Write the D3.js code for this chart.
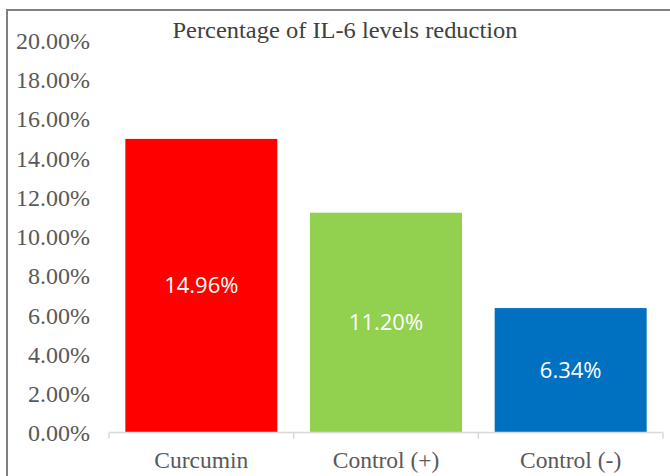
<!DOCTYPE html>
<html>
<head>
<meta charset="utf-8">
<script src="https://cdn.jsdelivr.net/npm/d3@7"></script>
<style>
  body { margin: 0; background: #fff; }
  svg { display: block; }
</style>
</head>
<body>
<svg id="chart" width="670" height="476"></svg>
<script>
// values
const categories = ["Curcumin", "Control (+)", "Control (-)"];
const reductions = [0.1496, 0.1120, 0.0634];
const barColors = ["#ff0000", "#92d050", "#0070c0"];
const yTicks = [0, 0.02, 0.04, 0.06, 0.08, 0.10, 0.12, 0.14, 0.16, 0.18, 0.20];
const title = "Percentage of IL-6 levels reduction";

const svg = d3.select("#chart");
const serif = "'Liberation Serif', 'Times New Roman', serif";
const sans = "'Open Sans', 'Liberation Sans', sans-serif";
const textColor = "#595959";

// chart frame, runs off the right and bottom edge
svg.append("rect")
    .attr("x", 7).attr("y", 10)
    .attr("width", 700).attr("height", 500)
    .attr("fill", "#fff")
    .attr("stroke", "#7f7f7f")
    .attr("stroke-width", 2);

const x = d3.scaleBand()
    .domain(categories)
    .range([109, 663])
    .paddingInner(0.177)
    .paddingOuter(0.0885);

const y = d3.scaleLinear()
    .domain([0, 0.20])
    .range([432.5, 40]);

const fmt = d3.format(".2%");

svg.append("text")
    .attr("x", 345).attr("y", 38)
    .attr("text-anchor", "middle")
    .attr("font-family", serif)
    .attr("font-size", 23)
    .attr("textLength", 345)
    .attr("lengthAdjust", "spacingAndGlyphs")
    .attr("fill", "#404040")
    .text(title);

// y labels, no axis line
const yAxis = svg.append("g")
    .attr("transform", "translate(90,0)")
    .call(d3.axisLeft(y).tickValues(yTicks).tickFormat(fmt).tickSize(0).tickPadding(0));
yAxis.select(".domain").remove();
yAxis.selectAll("text")
    .attr("font-family", serif)
    .attr("font-size", 24)
    .attr("fill", textColor)
    .attr("dy", "0.35em");

// bars
const data = categories.map((c, i) => ({ cat: c, val: reductions[i], color: barColors[i] }));

svg.selectAll("rect.bar")
    .data(data)
    .enter().append("rect")
    .attr("class", "bar")
    .attr("x", d => x(d.cat))
    .attr("y", d => y(d.val))
    .attr("width", x.bandwidth())
    .attr("height", d => y(0) - y(d.val))
    .attr("fill", d => d.color);

svg.selectAll("text.val")
    .data(data)
    .enter().append("text")
    .attr("class", "val")
    .attr("x", d => x(d.cat) + x.bandwidth() / 2)
    .attr("y", d => (y(0) + y(d.val)) / 2)
    .attr("dy", "0.35em")
    .attr("text-anchor", "middle")
    .attr("font-family", sans)
    .attr("font-size", 22)
    .attr("fill", "#fff")
    .text(d => fmt(d.val));

// x axis with ticks between categories
const tickX = [x.range()[0]].concat(categories.map(c => x(c) + x.step() * (1 - x.paddingInner() / 2)));
tickX[tickX.length - 1] = x.range()[1];

svg.append("line")
    .attr("x1", x.range()[0]).attr("x2", x.range()[1])
    .attr("y1", y(0)).attr("y2", y(0))
    .attr("stroke", "#d9d9d9")
    .attr("stroke-width", 1.5);

svg.selectAll("line.tick")
    .data(tickX)
    .enter().append("line")
    .attr("class", "tick")
    .attr("x1", d => d).attr("x2", d => d)
    .attr("y1", y(0)).attr("y2", y(0) + 6)
    .attr("stroke", "#d9d9d9")
    .attr("stroke-width", 1.5);

svg.selectAll("text.cat")
    .data(categories)
    .enter().append("text")
    .attr("class", "cat")
    .attr("x", d => x(d) + x.bandwidth() / 2)
    .attr("y", 468)
    .attr("text-anchor", "middle")
    .attr("font-family", serif)
    .attr("font-size", 23.5)
    .attr("fill", textColor)
    .text(d => d);
</script>
</body>
</html>
